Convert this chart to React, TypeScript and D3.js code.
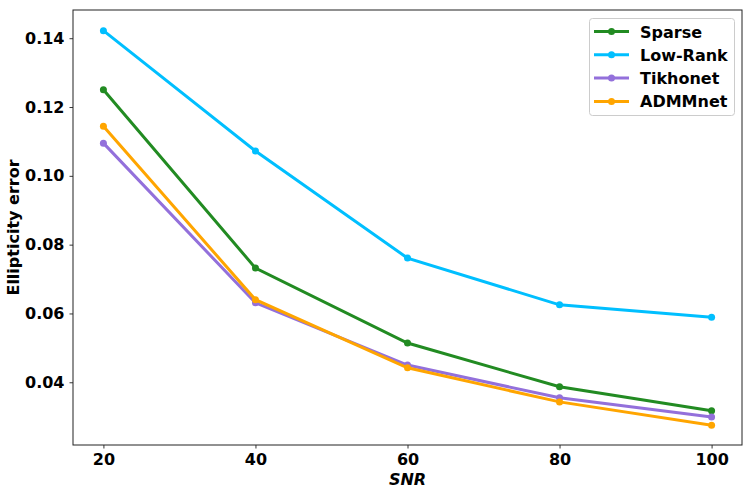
import * as d3 from "d3";
import React, { useEffect, useRef } from "react";

const snr = [20, 40, 60, 80, 100];
const sparse = [0.125, 0.0732, 0.0514, 0.0387, 0.0317];
const lowRank = [0.1422, 0.1072, 0.0761, 0.0625, 0.0589];
const tikhonet = [0.1095, 0.0631, 0.045, 0.0355, 0.0299];
const admmnet = [0.1144, 0.064, 0.0442, 0.0343, 0.0275];
const seriesNames = ["Sparse", "Low-Rank", "Tikhonet", "ADMMnet"];
const seriesColors = ["#228B22", "#00BFFF", "#9370DB", "#FFA500"];
const yTicks = [0.04, 0.06, 0.08, 0.1, 0.12, 0.14];

export default function App() {
  const ref = useRef<SVGSVGElement>(null);

  useEffect(() => {
    const width = 753,
      height = 494;
    const margin = { top: 10, right: 11, bottom: 49, left: 73 };
    const svg = d3.select(ref.current);
    svg.selectAll("*").remove();

    const font = "DejaVu Sans";
    const x = d3.scaleLinear().domain([16, 104]).range([margin.left, width - margin.right]);
    const y = d3.scaleLinear().domain([0.02177, 0.1482]).range([height - margin.bottom, margin.top]);

    const all = [sparse, lowRank, tikhonet, admmnet];

    const xAxis = svg
      .append("g")
      .attr("transform", `translate(0,${height - margin.bottom})`)
      .call(d3.axisBottom(x).tickValues(snr).tickSize(3.5).tickPadding(5).tickFormat(d3.format("d")));
    const yAxis = svg
      .append("g")
      .attr("transform", `translate(${margin.left},0)`)
      .call(d3.axisLeft(y).tickValues(yTicks).tickSize(3.5).tickPadding(5).tickFormat(d3.format(".2f")));
    [xAxis, yAxis].forEach((g) => {
      g.select(".domain").remove();
      g.selectAll("line").attr("stroke", "#000").attr("stroke-width", 0.8);
      g.selectAll("text")
        .attr("fill", "#000")
        .style("font-family", font)
        .style("font-size", "16px")
        .style("font-weight", "bold");
    });

    const line = d3
      .line<number>()
      .x((_, i) => x(snr[i]))
      .y((d) => y(d));

    all.forEach((vals, k) => {
      svg
        .append("path")
        .datum(vals)
        .attr("d", line)
        .attr("fill", "none")
        .attr("stroke", seriesColors[k])
        .attr("stroke-width", 3);
      svg
        .selectAll(null)
        .data(vals)
        .join("circle")
        .attr("cx", (_, i) => x(snr[i]))
        .attr("cy", (d) => y(d))
        .attr("r", 3.5)
        .attr("fill", seriesColors[k]);
    });

    // frame
    svg
      .append("rect")
      .attr("x", margin.left)
      .attr("y", margin.top)
      .attr("width", width - margin.left - margin.right)
      .attr("height", height - margin.top - margin.bottom)
      .attr("fill", "none")
      .attr("stroke", "#222")
      .attr("stroke-width", 1);

    // legend
    const lg = svg.append("g");
    lg.append("rect")
      .attr("x", 589.5)
      .attr("y", 18.5)
      .attr("width", 145)
      .attr("height", 97)
      .attr("rx", 3)
      .attr("fill", "#fff")
      .attr("fill-opacity", 0.8)
      .attr("stroke", "#ccc")
      .attr("stroke-width", 1);
    seriesNames.forEach((name, k) => {
      const cy = 31.5 + k * 23.3;
      lg.append("line")
        .attr("x1", 594)
        .attr("x2", 629)
        .attr("y1", cy)
        .attr("y2", cy)
        .attr("stroke", seriesColors[k])
        .attr("stroke-width", 3);
      lg.append("circle").attr("cx", 611.5).attr("cy", cy).attr("r", 3.5).attr("fill", seriesColors[k]);
      lg.append("text")
        .attr("x", 640)
        .attr("y", cy + 6)
        .text(name)
        .style("font-family", font)
        .style("font-size", "16px")
        .style("font-weight", "bold");
    });

    svg
      .append("text")
      .attr("x", (margin.left + width - margin.right) / 2)
      .attr("y", 485)
      .attr("text-anchor", "middle")
      .text("SNR")
      .style("font-family", font)
      .style("font-size", "16px")
      .style("font-weight", "bold")
      .style("font-style", "italic");

    svg
      .append("text")
      .attr("transform", `translate(19,${(margin.top + height - margin.bottom) / 2}) rotate(-90)`)
      .attr("text-anchor", "middle")
      .text("Ellipticity error")
      .style("font-family", font)
      .style("font-size", "16px")
      .style("font-weight", "bold");
  }, []);

  return (
    <svg
      ref={ref}
      width={753}
      height={494}
      style={{ position: "absolute", left: 0, top: 0, background: "#fff" }}
    />
  );
}
